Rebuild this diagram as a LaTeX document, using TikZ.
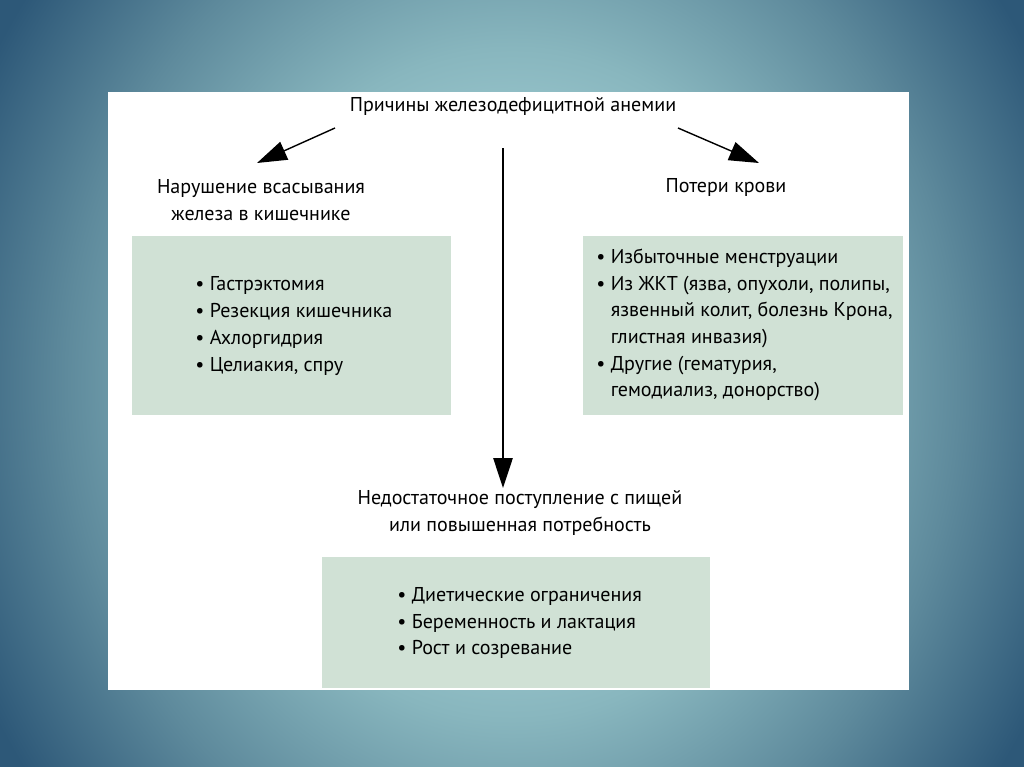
\documentclass[tikz,border=0pt]{standalone}
\usepackage{fontspec}
\setmainfont{PT Sans}
\usetikzlibrary{arrows.meta}
\definecolor{boxfill}{HTML}{D0E1D5}
\definecolor{bglight}{HTML}{A6D2D8}
\definecolor{bgmid}{HTML}{88B6BE}
\definecolor{bgmidd}{HTML}{5E8A9C}
\definecolor{bgdark}{HTML}{2D5878}
\pgfdeclareradialshading{bgglow}{\pgfpoint{0bp}{0bp}}{color(0bp)=(bglight); color(6bp)=(bglight); color(12bp)=(bgmid); color(18bp)=(bgmidd); color(24bp)=(bgdark); color(25bp)=(bgdark); color(50bp)=(bgdark)}
\newcommand{\bul}{\textbullet\ }
\newcommand{\ind}{\hphantom{\textbullet\ }}

\begin{document}
\begin{tikzpicture}[x=0.02cm,y=-0.02cm,
  txt/.style={font=\fontsize{11.4}{15.2}\selectfont, align=center, inner sep=0pt},
  lst/.style={font=\fontsize{11.4}{15.2}\selectfont, align=left, inner sep=0pt, anchor=west},
  arr/.style={-{Triangle[length=17pt,width=11pt]}, line width=0.8pt}]
\useasboundingbox (0,0) rectangle (1024,767);
\begin{scope}
\clip (0,0) rectangle (1024,767);
\shade[shading=bgglow] (512,384) ellipse (620 and 700);
\end{scope}
\fill[white] (108,92) rectangle (909,690);
% boxes
\fill[boxfill] (132,236) rectangle (451,415);
\fill[boxfill] (583,236) rectangle (903,415);
\fill[boxfill] (322,557) rectangle (710,688);
% headings
\node[txt] (title) at (513,106) {Причины железодефицитной анемии};
\node[txt] (absorb) at (261,200) {Нарушение всасывания\\железа в кишечнике};
\node[txt] (loss) at (726,187) {Потери крови};
\node[txt] (intake) at (520,513) {Недостаточное поступление с пищей\\или повышенная потребность};
% lists
\node[lst] (absorblist) at (195,326) {\bul Гастрэктомия\\\bul Резекция кишечника\\\bul Ахлоргидрия\\\bul Целиакия, спру};
\node[lst] (losslist) at (596,325) {\bul Избыточные менструации\\\bul Из ЖКТ (язва, опухоли, полипы,\\\ind язвенный колит, болезнь Крона,\\\ind глистная инвазия)\\\bul Другие (гематурия,\\\ind гемодиализ, донорство)};
\node[lst] (intakelist) at (397,623) {\bul Диетические ограничения\\\bul Беременность и лактация\\\bul Рост и созревание};
% arrows
\coordinate (l1) at (335,128); \coordinate (l2) at (257,163);
\coordinate (r1) at (678,128); \coordinate (r2) at (759,163);
\coordinate (v1) at (503,148); \coordinate (v2) at (503,488);
\draw[arr] (l1) -- (l2);
\draw[arr] (r1) -- (r2);
\draw[arr] (v1) -- (v2);
\end{tikzpicture}
\end{document}
